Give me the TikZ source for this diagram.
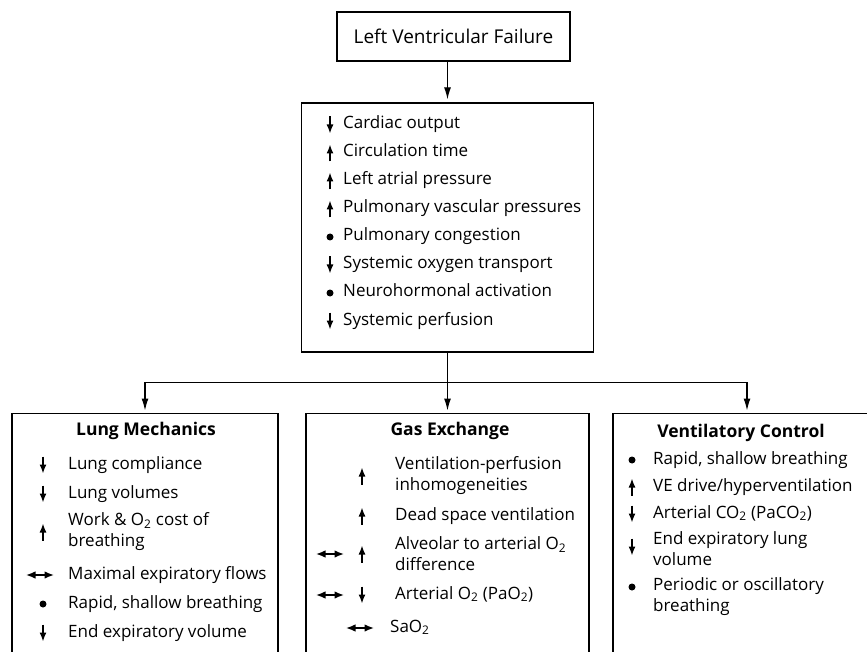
\documentclass[tikz,border=0pt]{standalone}
\usepackage{fontspec}
\setmainfont{Open Sans}
\usetikzlibrary{arrows.meta}
\begin{document}
\begin{tikzpicture}[x=1pt,y=-1pt,
  box/.style={draw,line width=1.3pt,inner sep=0pt},
  item/.style={anchor=west,inner sep=0pt,text height=12pt,text depth=4pt,font=\fontsize{17}{21}\selectfont},
  two/.style={anchor=west,inner sep=0pt,align=left,font=\fontsize{17}{21}\selectfont},
  title/.style={inner sep=0pt,font=\fontsize{17.5}{21}\selectfont\bfseries},
  conn/.style={line width=1.2pt},
  arr/.style={conn,-{Latex[length=12pt,width=7pt]}},
  tip/.style={line width=1.4pt,-{Latex[length=9pt,width=7pt]}},
  dn/.pic={\draw[tip] (0,-8.5) -- (0,8.5);},
  up/.pic={\draw[tip] (0,8.5) -- (0,-8.5);},
  lr/.pic={\draw[line width=1.4pt,{Latex[length=9.5pt,width=7.5pt]}-{Latex[length=9.5pt,width=7.5pt]}] (-14,0) -- (14,0);},
  dt/.pic={\fill (0,0) circle (3.5pt);}
]
\clip[use as bounding box] (0,0) rectangle (867,652);

\node[box,minimum width=233,minimum height=49] (lvf) at (453.5,36.5) {\fontsize{19}{23}\selectfont Left Ventricular Failure};
\node[box,minimum width=292,minimum height=249] (effects) at (447.5,227.5) {};
\node[box,anchor=north,minimum width=266,minimum height=300] (mech) at (145,412.5) {};
\node[box,anchor=north,minimum width=283,minimum height=300] (gas) at (447.5,412.5) {};
\node[box,anchor=north,minimum width=268,minimum height=300] (ctrl) at (747,412.5) {};

\draw[arr] (lvf.south -| effects.north) -- ([yshift=3pt]effects.north);
\draw[conn] (effects.south) -- ++(0,30) coordinate (split);
\draw[arr] (split) -| ([yshift=2pt]mech.north);
\draw[arr] (split) -- ([yshift=2pt]gas.north);
\draw[arr] (split) -| ([yshift=2pt]ctrl.north);

\foreach \t/\ic [count=\i] in {Cardiac output/dn,Circulation time/up,Left atrial pressure/up,
  Pulmonary vascular pressures/up,Pulmonary congestion/dt,Systemic oxygen transport/dn,
  Neurohormonal activation/dt,Systemic perfusion/dn}{
  \pic at (330,97+28*\i) {\ic};
  \node[item] (eff\i) at (343,97+28*\i) {\t};
}

\node[title] (mechtitle) at (146,431) {Lung Mechanics};
\pic at (43,465) {dn}; \node[item] (comp) at (68,465) {Lung compliance};
\pic at (43,494) {dn}; \node[item] (vol) at (68,494) {Lung volumes};
\pic at (43,532) {up}; \node[two] (work) at (68,532) {Work \& O\textsubscript{2} cost of\\breathing};
\pic at (40,575) {lr}; \node[item] (flow) at (68,575) {Maximal expiratory flows};
\pic at (43,604) {dt}; \node[item] (rapid) at (68,604) {Rapid, shallow breathing};
\pic at (43,633) {dn}; \node[item] (eev) at (68,633) {End expiratory volume};

\node[title] (gastitle) at (450,431) {Gas Exchange};
\pic at (362,476) {up}; \node[two] (vq) at (395,476) {Ventilation-perfusion\\inhomogeneities};
\pic at (362,516) {up}; \node[item] (dead) at (395,516) {Dead space ventilation};
\pic at (330,554) {lr}; \pic at (362,554) {up}; \node[two] (aa) at (395,554) {Alveolar to arterial O\textsubscript{2}\\difference};
\pic at (330,595) {lr}; \pic at (362,595) {dn}; \node[item] (pao) at (395,595) {Arterial O\textsubscript{2} (PaO\textsubscript{2})};
\pic at (360,628) {lr}; \node[item] (sao) at (390,628) {SaO\textsubscript{2}};

\node[title] (ctrltitle) at (741,433) {Ventilatory Control};
\pic at (632,460) {dt}; \node[item] (rsb) at (653,460) {Rapid, shallow breathing};
\pic at (632,487) {up}; \node[item] (drive) at (653,487) {VE drive/hyperventilation};
\pic at (632,514) {dn}; \node[item] (paco) at (653,514) {Arterial CO\textsubscript{2} (PaCO\textsubscript{2})};
\pic at (632,547) {dn}; \node[two] (eelv) at (653,549) {End expiratory lung\\volume};
\pic at (632,587) {dt}; \node[two] (osc) at (653,597) {Periodic or oscillatory\\breathing};
\end{tikzpicture}
\end{document}
